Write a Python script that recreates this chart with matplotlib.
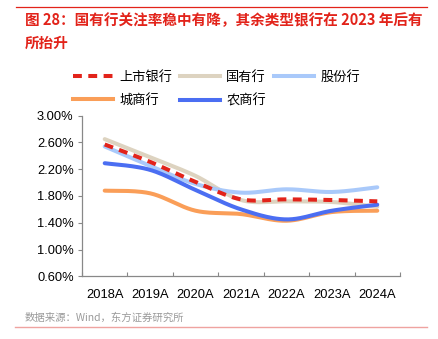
import numpy as np
import matplotlib.pyplot as plt
from matplotlib.lines import Line2D

plt.rcParams['font.family'] = ['Noto Sans CJK SC', 'DejaVu Sans']

years = ['2018A', '2019A', '2020A', '2021A', '2022A', '2023A', '2024A']
listed = [2.57, 2.31, 2.01, 1.75, 1.75, 1.74, 1.72]
state_owned = [2.65, 2.38, 2.10, 1.74, 1.72, 1.71, 1.64]
joint_stock = [2.54, 2.25, 1.98, 1.85, 1.90, 1.86, 1.93]
city = [1.88, 1.84, 1.58, 1.53, 1.43, 1.56, 1.58]
rural = [2.29, 2.19, 1.89, 1.60, 1.45, 1.58, 1.67]
yticks = [0.6, 1.0, 1.4, 1.8, 2.2, 2.6, 3.0]


def smooth(y, n=24):
    # catmull-rom so the lines bend like the excel original
    y = np.asarray(y, dtype=float)
    x = np.arange(len(y), dtype=float)
    px = np.concatenate([[x[0]], x, [x[-1]]])
    py = np.concatenate([[y[0]], y, [y[-1]]])
    xs, ys = [], []
    t = np.linspace(0, 1, n)
    for i in range(1, len(px) - 2):
        for arr, out in ((px, xs), (py, ys)):
            p0, p1, p2, p3 = arr[i - 1], arr[i], arr[i + 1], arr[i + 2]
            m1 = (p2 - p0) / 2
            m2 = (p3 - p1) / 2
            h00 = 2 * t**3 - 3 * t**2 + 1
            h10 = t**3 - 2 * t**2 + t
            h01 = -2 * t**3 + 3 * t**2
            h11 = t**3 - t**2
            out.append(h00 * p1 + h10 * m1 + h01 * p2 + h11 * m2)
    return np.concatenate(xs), np.concatenate(ys)


fig = plt.figure(figsize=(4.38, 3.39), dpi=100)
ax = fig.add_axes([0.1872, 0.185, 0.726, 0.4737])

series = [
    ('国有行', state_owned, '#DDD3C0', '-'),
    ('股份行', joint_stock, '#A9C9FA', '-'),
    ('城商行', city, '#FA9E58', '-'),
    ('农商行', rural, '#4B6EF2', '-'),
    ('上市银行', listed, '#E2231A', (0, (2.2, 1.6))),
]
for name, vals, color, ls in series:
    xs, ys = smooth(vals)
    ax.plot(xs, ys, color=color, lw=2.9, ls=ls, solid_capstyle='round')

ax.set_xlim(-0.5, len(years) - 0.5)
ax.set_ylim(0.6, 3.0)
ax.set_yticks(yticks)
ax.set_yticklabels([f'{v:.2f}%' for v in yticks], family=['Liberation Sans'], fontsize=9.3)
ax.set_xticks(np.arange(len(years) + 1) - 0.5)
ax.set_xticklabels([])
ax.set_xticks(np.arange(len(years)), minor=True)
ax.set_xticklabels(years, minor=True, family=['Liberation Sans'], fontsize=9.3)
ax.tick_params(axis='x', which='major', direction='in', length=3, color='#888888')
ax.tick_params(axis='x', which='minor', length=0, pad=9)
ax.tick_params(axis='y', direction='out', length=3, color='#888888', pad=3)
for s in ['top', 'right']:
    ax.spines[s].set_visible(False)
for s in ['left', 'bottom']:
    ax.spines[s].set_color('#888888')
    ax.spines[s].set_linewidth(0.9)

handles = {name: Line2D([], [], color=c, lw=2.9, ls=ls) for name, _, c, ls in series}
order = ['上市银行', '城商行', '国有行', '农商行', '股份行']
fig.legend([handles[k] for k in order], order, ncol=3, frameon=False,
           loc='upper left', bbox_to_anchor=(73 / 438, 1 - 71 / 339), fontsize=9.5,
           handlelength=3.0, handletextpad=0.5, columnspacing=0.6,
           labelspacing=0.75, borderpad=0, borderaxespad=0)

red = '#E2231A'
fig.add_artist(Line2D([16 / 438, 427 / 438], [1 - 7 / 339] * 2, color=red, lw=0.9))
fig.add_artist(Line2D([15 / 438, 427 / 438], [1 - 327 / 339] * 2, color='#EFA3A0', lw=1.0))
fig.text(25 / 438, 1 - 20 / 339, '图 28：国有行关注率稳中有降，其余类型银行在 2023 年后有',
         color=red, fontsize=10.5, fontweight='bold', va='center')
fig.text(25 / 438, 1 - 43 / 339, '所抬升', color=red, fontsize=10.5,
         fontweight='bold', va='center')
fig.text(25 / 438, 1 - 318 / 339, '数据来源：Wind，东方证券研究所', color='#9A9A9A',
         fontsize=7.5, va='center')

fig.savefig('out.png', dpi=100)
